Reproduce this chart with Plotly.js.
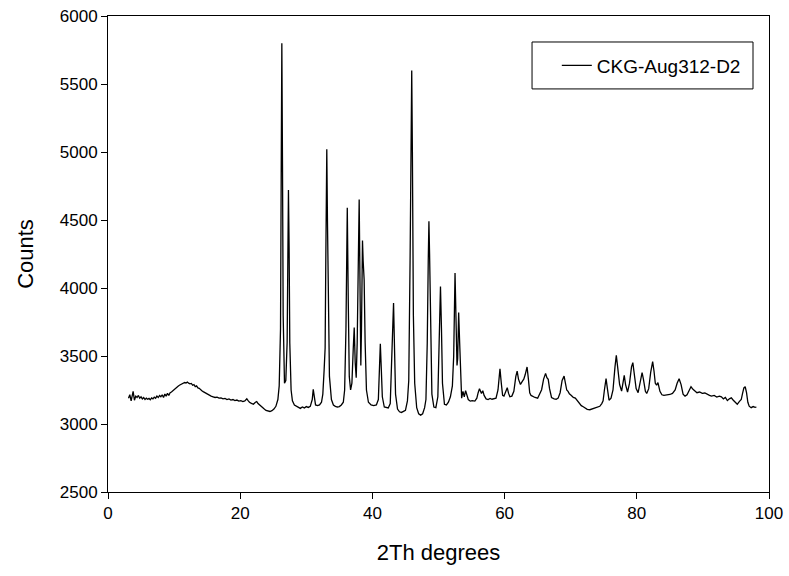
<!DOCTYPE html>
<html>
<head>
<meta charset="utf-8">
<script src="https://cdn.plot.ly/plotly-3.0.1.min.js"></script>
<style>html,body{margin:0;padding:0;background:#fff;}#chart{width:789px;height:576px;}</style>
</head>
<body>
<div id="chart"></div>
<script>
const seriesName = "CKG-Aug312-D2";
const xTitle = "2Th degrees";
const yTitle = "Counts";
const xTicks = [0, 20, 40, 60, 80, 100];
const yTicks = [2500, 3000, 3500, 4000, 4500, 5000, 5500, 6000];

const twoTheta = [
3.1,3.3,3.5,3.7,3.8,4.0,4.2,4.4,4.6,4.8,5.0,5.2,5.4,5.6,5.8,6.0,6.2,6.4,6.6,6.8,
7.0,7.2,7.4,7.6,7.8,8.0,8.2,8.4,8.6,8.8,9.0,9.2,9.4,9.6,9.8,10.0,10.2,10.4,10.6,10.8,
11.0,11.2,11.4,11.6,11.8,12.0,12.2,12.4,12.6,12.8,13.0,13.2,13.4,13.6,13.8,14.0,14.2,14.4,14.6,14.8,
15.0,15.3,15.6,15.9,16.2,16.5,16.8,17.1,17.4,17.7,18.0,18.3,18.6,18.9,19.2,19.5,19.8,20.1,20.4,20.7,
21.0,21.2,21.4,21.7,22.0,22.3,22.5,22.7,23.0,23.3,23.6,23.9,24.2,24.5,24.8,25.1,25.4,25.7,25.9,26.1,
26.2,26.3,26.4,26.5,26.7,26.9,27.1,27.2,27.3,27.4,27.5,27.7,27.9,28.2,28.5,28.8,29.1,29.4,29.7,30.0,
30.3,30.6,30.9,31.05,31.2,31.4,31.7,32.0,32.3,32.5,32.7,32.85,32.95,33.1,33.2,33.35,33.5,33.8,34.1,34.4,
34.7,35.0,35.3,35.6,35.8,36.0,36.2,36.35,36.5,36.7,36.9,37.1,37.25,37.4,37.55,37.7,37.9,38.0,38.15,38.25,
38.35,38.5,38.6,38.75,38.9,39.1,39.4,39.8,40.2,40.6,40.9,41.05,41.2,41.35,41.5,41.8,42.1,42.4,42.7,42.9,
43.05,43.2,43.35,43.5,43.8,44.1,44.4,44.7,45.0,45.3,45.5,45.7,45.85,45.95,46.05,46.2,46.4,46.7,47.0,47.3,
47.6,47.9,48.1,48.3,48.45,48.55,48.65,48.8,49.0,49.3,49.6,49.9,50.1,50.3,50.45,50.6,50.9,51.2,51.5,51.8,
52.1,52.3,52.5,52.65,52.8,52.9,53.05,53.2,53.35,53.5,53.7,53.9,54.1,54.3,54.5,54.8,55.1,55.5,55.8,56.0,
56.2,56.5,56.7,56.9,57.2,57.5,57.8,58.1,58.4,58.7,59.0,59.3,59.5,59.7,59.9,60.2,60.4,60.6,60.8,61.1,
61.4,61.7,61.9,62.1,62.4,62.7,62.9,63.1,63.4,63.6,63.8,64.0,64.3,64.6,65.0,65.3,65.6,65.9,66.2,66.4,
66.6,66.8,67.1,67.5,67.8,68.1,68.4,68.7,69.0,69.2,69.4,69.6,69.8,70.1,70.4,70.7,71.0,71.3,71.6,71.9,
72.2,72.5,72.9,73.3,73.7,74.1,74.4,74.7,74.9,75.1,75.35,75.55,75.8,76.1,76.4,76.7,76.9,77.1,77.4,77.7,
77.9,78.1,78.3,78.6,78.9,79.2,79.4,79.6,79.9,80.2,80.5,80.8,81.0,81.3,81.5,81.8,82.1,82.4,82.6,82.8,
83.0,83.2,83.5,83.8,84.1,84.5,85.0,85.4,85.8,86.1,86.4,86.7,87.0,87.3,87.6,87.9,88.2,88.5,88.8,89.1,
89.5,89.9,90.3,90.7,91.0,91.3,91.7,92.1,92.5,92.8,93.1,93.4,93.7,94.0,94.3,94.6,94.9,95.2,95.5,95.8,
96.0,96.2,96.4,96.6,96.8,97.0,97.3,97.6,97.9,98.1
];

const counts = [
3190,3215,3170,3225,3240,3175,3205,3195,3210,3190,3200,3185,3195,3180,3190,3182,3188,3178,3192,3185,
3198,3190,3205,3195,3210,3200,3215,3195,3220,3205,3225,3210,3230,3235,3245,3250,3262,3270,3278,3285,
3290,3298,3300,3305,3302,3308,3300,3295,3298,3285,3290,3275,3280,3265,3262,3250,3245,3238,3232,3225,
3220,3212,3205,3200,3195,3198,3190,3192,3185,3188,3180,3184,3176,3180,3172,3176,3168,3172,3165,3170,
3185,3172,3160,3152,3145,3160,3165,3150,3135,3122,3112,3100,3095,3092,3098,3110,3130,3180,3280,3700,
4800,5800,4900,3800,3300,3320,3600,4200,4720,4300,3600,3250,3170,3140,3130,3122,3115,3125,3118,3128,
3122,3130,3180,3255,3190,3140,3135,3140,3160,3220,3400,3560,4200,5020,4500,3700,3350,3180,3140,3130,
3125,3128,3140,3160,3250,3700,4590,3900,3350,3250,3300,3550,3710,3450,3340,3600,4300,4650,3900,3430,
3700,4350,4200,4060,3600,3250,3160,3140,3135,3140,3180,3380,3590,3400,3200,3125,3120,3118,3150,3400,
3700,3890,3550,3220,3110,3090,3085,3090,3100,3170,3320,4200,5300,5600,5000,3800,3300,3120,3075,3065,
3075,3120,3180,3600,4200,4490,4250,3600,3220,3125,3120,3200,3600,4010,3700,3300,3145,3140,3160,3200,
3280,3500,4110,3800,3430,3480,3820,3600,3300,3190,3240,3200,3245,3200,3180,3168,3172,3168,3190,3230,
3260,3225,3245,3210,3185,3180,3188,3182,3186,3190,3250,3405,3300,3210,3205,3240,3267,3225,3200,3205,
3240,3350,3389,3330,3291,3315,3330,3360,3419,3330,3230,3210,3200,3195,3190,3220,3252,3330,3372,3340,
3328,3260,3195,3185,3182,3190,3230,3320,3352,3300,3250,3240,3222,3210,3195,3190,3170,3150,3135,3127,
3115,3108,3105,3112,3118,3125,3130,3150,3170,3250,3333,3260,3175,3190,3250,3420,3505,3420,3290,3242,
3300,3357,3290,3235,3300,3420,3451,3380,3260,3230,3300,3377,3330,3240,3225,3260,3380,3458,3390,3300,
3285,3305,3240,3215,3210,3212,3217,3225,3250,3300,3333,3290,3220,3205,3215,3245,3274,3255,3240,3230,
3235,3225,3228,3215,3210,3205,3210,3198,3205,3200,3185,3195,3172,3185,3192,3175,3160,3145,3165,3180,
3225,3265,3274,3230,3160,3131,3120,3128,3122,3125
];

const FONT = "Liberation Sans, Arial, sans-serif";

const trace = {
  x: twoTheta, y: counts, type: "scatter", mode: "lines", name: seriesName,
  line: {color: "#000000", width: 1.3}
};

const layout = {
  width: 789, height: 576,
  margin: {l: 108, r: 20, t: 16, b: 84},
  paper_bgcolor: "#ffffff", plot_bgcolor: "#ffffff",
  font: {family: FONT, color: "#000000"},
  showlegend: true,
  legend: {
    x: 0.679, y: 0.896, xanchor: "left", yanchor: "middle",
    borderwidth: 0, bgcolor: "rgba(0,0,0,0)",
    font: {family: FONT, size: 19, color: "#000000"}
  },
  shapes: [{
    type: "rect", xref: "paper", yref: "paper",
    x0: 0.6415, x1: 0.9758, y0: 0.8468, y1: 0.9454,
    line: {color: "#000000", width: 1}, fillcolor: "rgba(0,0,0,0)", layer: "above"
  }],
  xaxis: {
    range: [0, 100], tickmode: "array", tickvals: xTicks, ticktext: xTicks.map(String),
    ticks: "outside", ticklen: 6, tickwidth: 1, tickcolor: "#000",
    showline: true, linecolor: "#000", linewidth: 1, mirror: true,
    showgrid: false, zeroline: false,
    tickfont: {family: FONT, size: 17},
    title: {text: xTitle, font: {family: FONT, size: 22}, standoff: 22}
  },
  yaxis: {
    range: [2500, 6000], tickmode: "array", tickvals: yTicks, ticktext: yTicks.map(String),
    ticks: "outside", ticklen: 6, tickwidth: 1, tickcolor: "#000",
    showline: true, linecolor: "#000", linewidth: 1, mirror: true,
    showgrid: false, zeroline: false,
    tickfont: {family: FONT, size: 17},
    title: {text: yTitle, font: {family: FONT, size: 22}, standoff: 20}
  }
};

Plotly.newPlot("chart", [trace], layout, {displayModeBar: false, staticPlot: true});
</script>
</body>
</html>
